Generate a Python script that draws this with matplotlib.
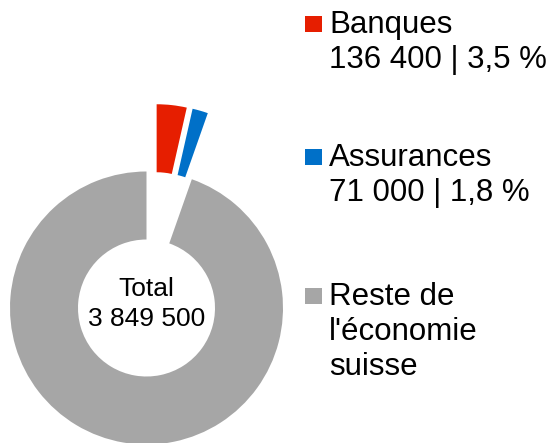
import numpy as np
import matplotlib
matplotlib.use('Agg')
import matplotlib.pyplot as plt
from matplotlib.patches import Rectangle

plt.rcParams['font.family'] = ['Liberation Sans', 'DejaVu Sans']

# data
labels = ['Banques', 'Assurances', "Reste de\nl'économie\nsuisse"]
values = [136400, 71000, 3642100]
colors = ['#E61E00', '#0070C8', '#A6A6A6']
show_value = [True, True, False]
total = 3849500


def fmt_int(v):
    return f'{v:,}'.replace(',', ' ')


W, H = 554, 443
fig = plt.figure(figsize=(W / 100, H / 100), dpi=100)
ax = fig.add_axes([0, 0, 1, 1])

# donut, drawn in pixel units
cx, cy = 146.5, H - 308
R = 136.5
wedges, _ = ax.pie(values, colors=colors, startangle=90, counterclock=False,
                   radius=R, center=(cx, cy),
                   wedgeprops=dict(width=68, linewidth=0))
# pull out the two small slices; directions tilted slightly towards each
# other so the gap between them stays narrow, like the original
pull = 68
tilt = [-2.2, 2.5, None]
for w, t in zip(wedges, tilt):
    if t is None:
        continue
    a = np.deg2rad(0.5 * (w.theta1 + w.theta2) + t)
    w.set_center((cx + pull * np.cos(a), cy + pull * np.sin(a)))

ax.text(cx, cy + 4, 'Total\n' + fmt_int(total), ha='center', va='center',
        fontsize=19, linespacing=1.35)

ax.set_xlim(0, W)
ax.set_ylim(0, H)
ax.set_aspect('auto')
ax.axis('off')

# legend on the right
first_baselines = [33, 166, 305]
step = 35
for label, v, c, show, base in zip(labels, values, colors, show_value,
                                   first_baselines):
    lines = label.split('\n')
    if show:
        pct = f'{100 * v / total:.1f}'.replace('.', ',')
        lines.append(f'{fmt_int(v)} | {pct} %')
    for i, line in enumerate(lines):
        ax.text(329, H - (base + i * step), line, fontsize=22.5,
                ha='left', va='baseline')
    ax.add_patch(Rectangle((305, H - base + 1), 17, 16, color=c, lw=0))

fig.savefig('out.png', dpi=100)
